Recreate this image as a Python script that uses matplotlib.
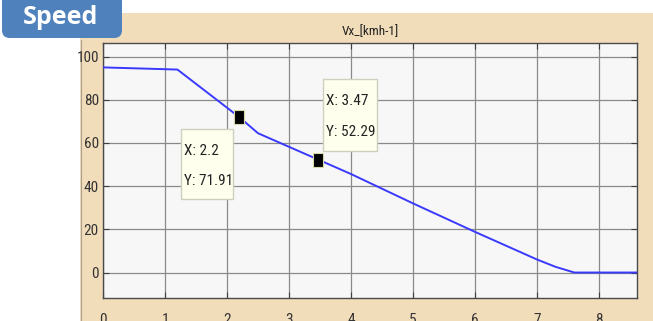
import numpy as np
import matplotlib.pyplot as plt
from matplotlib import font_manager
from matplotlib.patches import Rectangle, FancyBboxPatch
from matplotlib.lines import Line2D
from matplotlib.transforms import Affine2D, ScaledTranslation

# speed trace, time [s] vs Vx [km/h]
time_s = [0.0, 1.2, 2.2, 2.5, 3.47, 4.0, 5.0, 6.0, 7.0, 7.3, 7.6, 8.61]
vx_kmh = [95.0, 94.0, 71.91, 64.5, 52.29, 45.6, 32.0, 18.8, 6.0, 2.6, 0.0, 0.0]

# data tips shown on the curve
tip_x = [2.2, 3.47]
tip_y = [71.91, 52.29]
# tip box placement in pixels relative to the tip: left, bottom, width, height
tip_boxes = [(-58, -82, 52, 70), (5, 9, 54, 72)]

x_ticks = [0, 1, 2, 3, 4, 5, 6, 7, 8]
y_ticks = [0, 20, 40, 60, 80, 100]

# pick a narrow face if one is around
_have = {f.name for f in font_manager.fontManager.ttflist}
_narrow = [n for n in ['Liberation Sans Narrow', 'Arial Narrow', 'Roboto Condensed',
                       'Archivo Narrow', 'PT Sans Narrow', 'Pragati Narrow',
                       'Open Sans Condensed', 'Fira Sans Condensed'] if n in _have]
narrow = _narrow[:1] + ['Liberation Sans', 'DejaVu Sans']

W, H = 653, 321

fig = plt.figure(figsize=(W / 100, H / 100), dpi=100)
fig.patch.set_facecolor('white')

# tan panel behind the plot
fig.patches.append(Rectangle((80 / W, 0), 1 - 80 / W, (H - 13) / H,
                             transform=fig.transFigure, facecolor='#F2DDBB',
                             edgecolor='none', zorder=-2))
fig.lines.append(Line2D([80.5 / W, 80.5 / W], [0, (H - 40) / H],
                        transform=fig.transFigure, color='#a8a090', lw=0.8,
                        zorder=-1))

# "Speed" header tab
fig.patches.append(FancyBboxPatch((2 / W, (H - 38) / H), 120 / W, 50 / H,
                                  boxstyle='round,pad=0,rounding_size=0.012',
                                  transform=fig.transFigure, facecolor='#4F81BD',
                                  edgecolor='none', zorder=1, mutation_aspect=W / H))
fig.text(61 / W, (H - 18) / H, 'Speed', color='white', fontsize=18,
         fontweight='bold', family=['Open Sans', 'DejaVu Sans'],
         ha='center', va='center', zorder=2)

ax = fig.add_axes([103 / W, 23 / H, 534 / W, 255 / H])
ax.set_zorder(3)
ax.set_facecolor('#F7F7F7')
ax.plot(time_s, vx_kmh, color='#3a3aff', lw=1.4, zorder=3)

rect_marker = [(-0.32, -0.5), (0.32, -0.5), (0.32, 0.5), (-0.32, 0.5), (-0.32, -0.5)]
ax.plot(tip_x, tip_y, ls='none', marker=rect_marker, markersize=10.5,
        markerfacecolor='black', markeredgecolor='#d8d8a8', markeredgewidth=0.8,
        zorder=5)

for x, y, (bx, by, bw, bh) in zip(tip_x, tip_y, tip_boxes):
    # box is sized in pixels and pinned to the data point
    pin = ScaledTranslation(x, y, ax.transData)
    box = Rectangle((bx, by), bw, bh, transform=Affine2D() + pin,
                    facecolor='#FFFFEE', edgecolor='#cfcfc0', lw=1.0,
                    zorder=6, clip_on=False)
    ax.add_artist(box)
    lines = [f'X: {x:g}', f'Y: {y:.2f}']
    for k, s in enumerate(lines):
        cy = by + bh * (0.69 - 0.43 * k)
        ax.annotate(s, xy=(x, y), xytext=(bx + 3, cy),
                    textcoords='offset pixels', ha='left', va='center',
                    fontsize=11, family=narrow, color='#222222', zorder=7)

ax.set_xlim(0, 8.61)
ax.set_ylim(-11.8, 106.3)
ax.set_xticks(x_ticks)
ax.set_yticks(y_ticks)
ax.grid(True, color='#8a8a8a', lw=0.9)
ax.set_axisbelow(True)
ax.tick_params(direction='in', length=4, width=0.8, color='#404040',
               top=True, right=True, labelsize=11, labelcolor='#333333')
ax.tick_params(axis='x', pad=11)
ax.tick_params(axis='y', pad=3)
for lab in ax.get_xticklabels() + ax.get_yticklabels():
    lab.set_family(narrow)
for sp in ax.spines.values():
    sp.set_color('#4a4a4a')
    sp.set_linewidth(1.0)

ax.set_title('Vx_[kmh-1]', fontsize=9.5, family=narrow, color='#222222', pad=6)

fig.savefig('out.png', dpi=100)
